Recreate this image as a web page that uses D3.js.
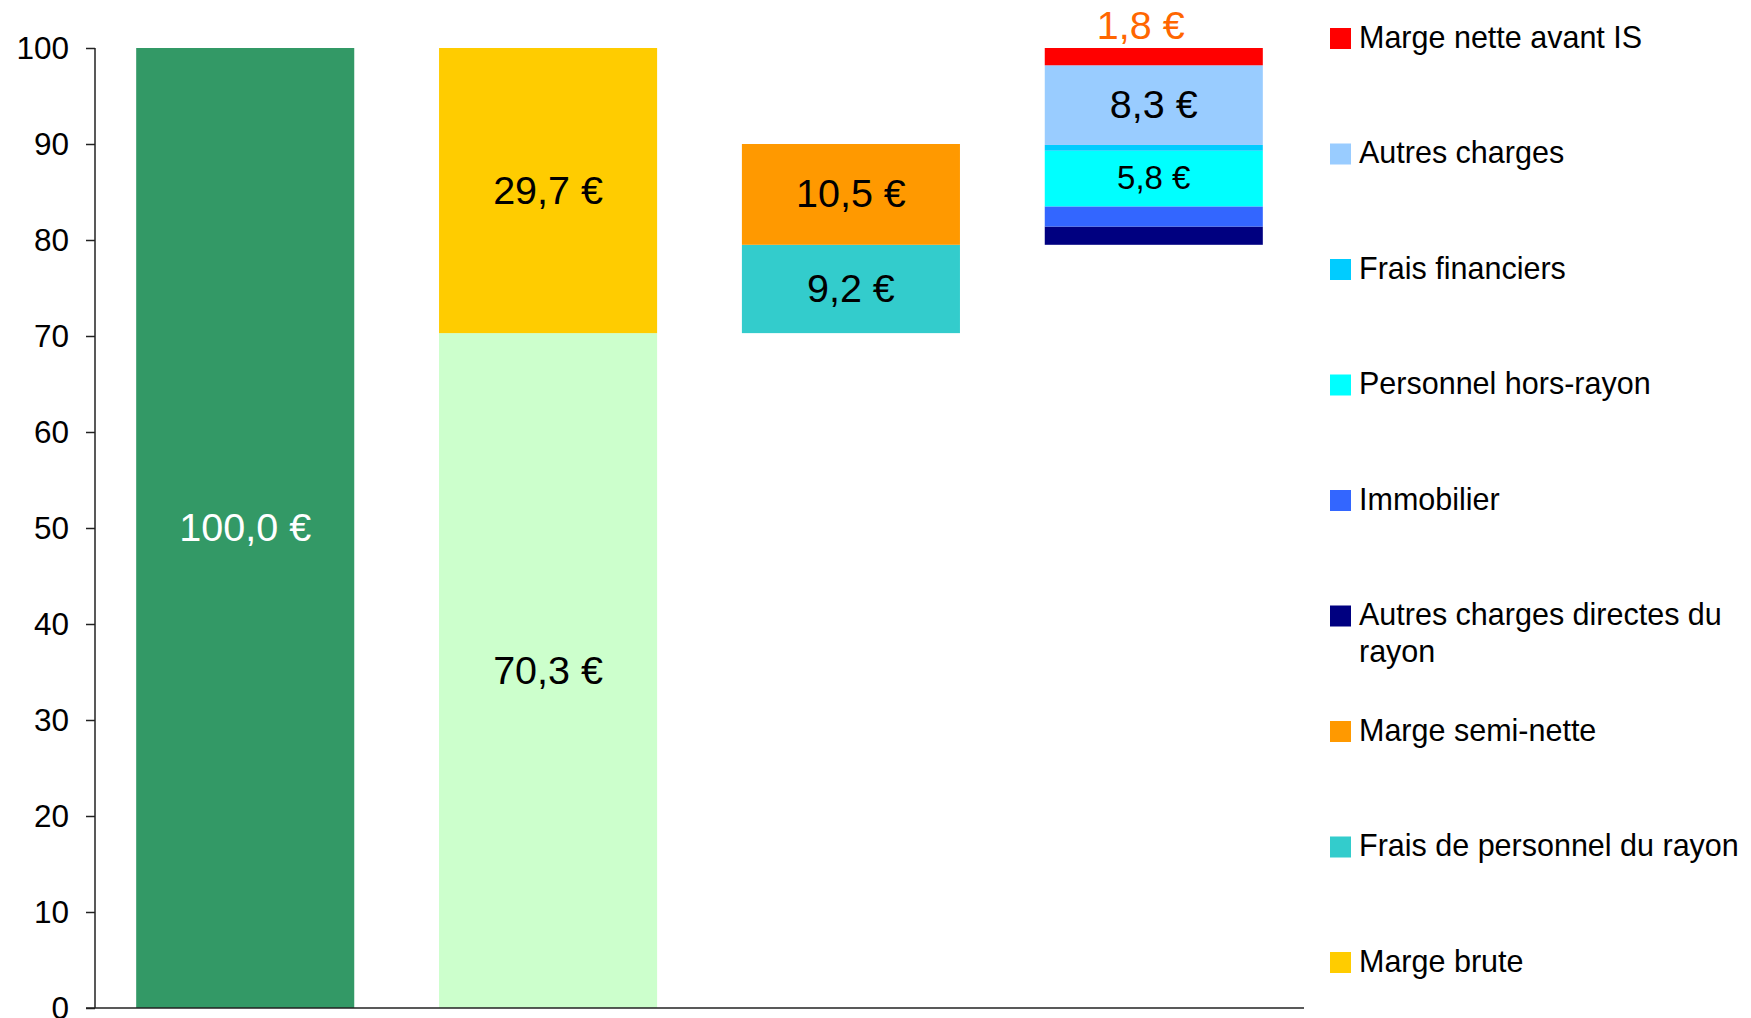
<!DOCTYPE html>
<html>
<head>
<meta charset="utf-8">
<script src="https://cdn.jsdelivr.net/npm/d3@7"></script>
<style>
  body { margin: 0; background: #fff; }
  svg { display: block; font-family: "Liberation Sans", Arial, sans-serif; }
</style>
</head>
<body>
<svg id="chart" width="1751" height="1018"></svg>
<script>
// the 4 columns of the cascade (no labels under them in the original)
const categories = ["Prix de vente", "Achat / marge", "Rayon", "Magasin"];

// stacked series, bottom to top
const seriesNames = [
  "Base",
  "Prix de vente",
  "Coût d'achat",
  "Marge brute",
  "Frais de personnel du rayon",
  "Marge semi-nette",
  "Autres charges directes du rayon",
  "Immobilier",
  "Personnel hors-rayon",
  "Frais financiers",
  "Autres charges",
  "Marge nette avant IS"
];
const base          = [0, 0, 70.3, 79.5];
const prixVente     = [100, 0, 0, 0];
const coutAchat     = [0, 70.3, 0, 0];
const margeBrute    = [0, 29.7, 0, 0];
const fraisPersoRay = [0, 0, 9.2, 0];
const margeSemi     = [0, 0, 10.5, 0];
const autresDirect  = [0, 0, 0, 1.9];
const immobilier    = [0, 0, 0, 2.1];
const persoHors     = [0, 0, 0, 5.8];
const fraisFin      = [0, 0, 0, 0.6];
const autresCharges = [0, 0, 0, 8.3];
const margeNette    = [0, 0, 0, 1.8];

const seriesValues = [base, prixVente, coutAchat, margeBrute, fraisPersoRay, margeSemi,
  autresDirect, immobilier, persoHors, fraisFin, autresCharges, margeNette];

const colors = ["none", "#339966", "#CCFFCC", "#FFCC00", "#33CCCC", "#FF9900",
  "#000080", "#3366FF", "#00FFFF", "#00CCFF", "#99CCFF", "#FF0000"];

// segments that carry a value label
const labelled = ["Prix de vente", "Coût d'achat", "Marge brute", "Frais de personnel du rayon",
  "Marge semi-nette", "Personnel hors-rayon", "Autres charges", "Marge nette avant IS"];

// legend, top to bottom
const legendItems = ["Marge nette avant IS", "Autres charges", "Frais financiers",
  "Personnel hors-rayon", "Immobilier", "Autres charges directes du rayon",
  "Marge semi-nette", "Frais de personnel du rayon", "Marge brute"];

const yTicks = [0, 10, 20, 30, 40, 50, 60, 70, 80, 90, 100];

const svg = d3.select('#chart');
const margin = { top: 48, left: 95, right: 447, bottom: 10 };
const width = 1751, height = 1018;

const table = categories.map((c, i) => {
  const row = { cat: c };
  seriesNames.forEach((s, k) => { row[s] = seriesValues[k][i]; });
  return row;
});

const stacked = d3.stack().keys(seriesNames)(table);

const x = d3.scaleBand()
  .domain(categories)
  .range([margin.left, width - margin.right])
  .paddingInner(0.28)
  .paddingOuter(0.136);

const y = d3.scaleLinear()
  .domain([0, 100])
  .range([height - margin.bottom, margin.top]);

const color = d3.scaleOrdinal().domain(seriesNames).range(colors);

// bars
const layers = svg.append('g').selectAll('g')
  .data(stacked)
  .join('g')
  .attr('fill', d => color(d.key));

layers.selectAll('rect')
  .data(d => d.filter(p => p[1] - p[0] > 0).map(p => ({ p, key: d.key })))
  .join('rect')
  .attr('x', d => x(d.p.data.cat))
  .attr('y', d => y(d.p[1]))
  .attr('width', x.bandwidth())
  .attr('height', d => y(d.p[0]) - y(d.p[1]));

// value labels
const fmt = v => d3.format('.1f')(v).replace('.', ',') + ' €';
const labels = [];
stacked.forEach(layer => {
  if (!labelled.includes(layer.key)) return;
  layer.forEach(p => {
    const v = p[1] - p[0];
    if (v > 0) labels.push({ key: layer.key, p, v });
  });
});

const topKey = "Marge nette avant IS";
svg.append('g').selectAll('text')
  .data(labels)
  .join('text')
  .attr('x', d => x(d.p.data.cat) + x.bandwidth() / 2 + (d.key === topKey ? -13 : 0))
  .attr('y', d => d.key === topKey ? y(d.p[1]) - 23 : (y(d.p[0]) + y(d.p[1])) / 2 - 1)
  .attr('text-anchor', 'middle')
  .attr('dominant-baseline', 'central')
  .attr('font-size', d => d.key === "Personnel hors-rayon" ? 33 : 39.5)
  .attr('fill', d => d.key === "Prix de vente" ? '#fff' : (d.key === topKey ? '#FF6600' : '#000'))
  .text(d => fmt(d.v));

// axes
const yAxis = d3.axisLeft(y).tickValues(yTicks).tickSize(9).tickPadding(17);
const gy = svg.append('g')
  .attr('transform', `translate(${margin.left},0)`)
  .call(yAxis);
gy.select('.domain').attr('d', `M0,${y(100)}V${y(0)}`).attr('stroke', '#222').attr('stroke-width', 1.5);
gy.selectAll('.tick line').attr('stroke', '#222').attr('stroke-width', 1.5);
gy.selectAll('.tick text').attr('font-size', 31.5).attr('fill', '#000')
  .attr('font-family', '"Liberation Sans", Arial, sans-serif');

svg.append('line')
  .attr('x1', margin.left - 9).attr('x2', width - margin.right)
  .attr('y1', y(0)).attr('y2', y(0))
  .attr('stroke', '#222').attr('stroke-width', 1.5);

// legend
const legend = svg.append('g');
const legendRow = 115.5;
legendItems.forEach((name, i) => {
  const cy = 38.5 + i * legendRow;
  const g = legend.append('g');
  g.append('rect')
    .attr('x', 1330).attr('y', cy - 10.5)
    .attr('width', 21).attr('height', 21)
    .attr('fill', color(name));
  const t = g.append('text')
    .attr('x', 1359).attr('y', cy + 9)
    .attr('font-size', 30.5).attr('fill', '#000');
  if (name === "Autres charges directes du rayon") {
    t.append('tspan').attr('x', 1359).text("Autres charges directes du");
    t.append('tspan').attr('x', 1359).attr('dy', 37).text("rayon");
  } else {
    t.text(name);
  }
});
</script>
</body>
</html>
